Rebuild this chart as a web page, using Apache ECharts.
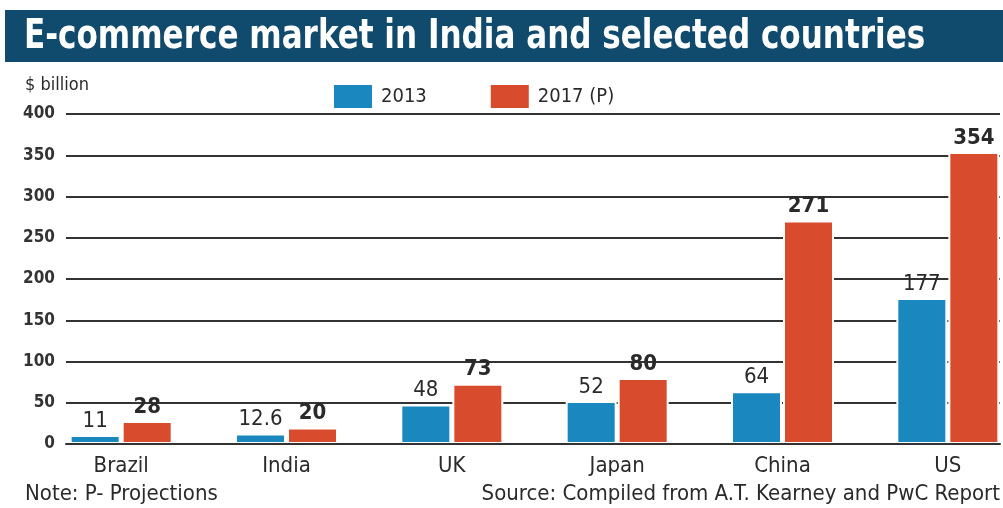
<!DOCTYPE html>
<html><head><meta charset="utf-8">
<script src="https://cdn.jsdelivr.net/npm/echarts@6/dist/echarts.min.js"></script>
<style>html,body{margin:0;padding:0;background:#fff}#c{width:1003px;height:508px}</style>
</head><body><div id="c"></div>
<script>
const categories = ['Brazil', 'India', 'UK', 'Japan', 'China', 'US'];
const values2013 = [11, 12.6, 48, 52, 64, 177];
const values2017 = [28, 20, 73, 80, 271, 354];
const seriesNames = ['2013', '2017 (P)'];
const yTicks = { min: 0, max: 400, interval: 50 };

const FONT = "'Liberation Sans Narrow', 'DejaVu Sans Condensed', sans-serif";
const BLUE = '#1a87be', RED = '#d84b2c', TXT = '#2a2a2a';
const chart = echarts.init(document.getElementById('c'), null, { renderer: 'canvas' });
chart.setOption({
  animation: false,
  backgroundColor: '#fff',
  textStyle: { fontFamily: FONT },
  graphic: [
    { type: 'rect', shape: { x: 5, y: 10, width: 998, height: 52 }, style: { fill: '#104a6c' }, z: 0 },
    { type: 'text', x: 24, y: 17, scaleX: 0.842, style: { text: 'E-commerce market in India and selected countries', fill: '#fff', font: "bold 41px " + FONT }, z: 1 },
    { type: 'text', left: 25, top: 76, style: { text: '$ billion', fill: TXT, font: "18px " + FONT } },
    { type: 'text', left: 25, top: 483, style: { text: 'Note: P- Projections', fill: TXT, font: "22px " + FONT } },
    { type: 'text', right: 3, top: 483, style: { text: 'Source: Compiled from A.T. Kearney and PwC Report', fill: TXT, font: "22px " + FONT, textAlign: 'right' } }
  ],
  legend: {
    data: seriesNames,
    left: 327, top: 78,
    itemWidth: 40, itemHeight: 25, itemGap: 62,
    icon: 'rect',
    textStyle: { fontSize: 20, color: TXT, fontFamily: FONT, padding: [0, 0, 0, 3] }
  },
  grid: [
    { left: 66, right: 3, top: 114, bottom: 64, outerBoundsMode: 'none' },
    { left: 38.5, width: 992, top: 114, bottom: 64, outerBoundsMode: 'none' }
  ],
  xAxis: [
    { gridIndex: 0, type: 'value', min: 0, max: 1, show: true, z: 10,
      axisLine: { show: true, onZero: false, lineStyle: { color: '#333', width: 2 } },
      axisTick: { show: false }, axisLabel: { show: false }, splitLine: { show: false } },
    { gridIndex: 1, type: 'category', data: categories,
      axisLine: { show: false }, axisTick: { show: false },
      axisLabel: { fontSize: 22, color: TXT, margin: 11, fontFamily: FONT } }
  ],
  yAxis: [
    { gridIndex: 0, type: 'value', min: yTicks.min, max: yTicks.max, interval: yTicks.interval,
      axisLine: { show: false }, axisTick: { show: false },
      axisLabel: { fontSize: 17, color: '#333', margin: 11, fontFamily: FONT, fontWeight: 'bold' },
      splitLine: { show: true, lineStyle: { color: '#333', width: 2 } } },
    { gridIndex: 1, type: 'value', min: yTicks.min, max: yTicks.max, interval: yTicks.interval, show: false,
      splitLine: { show: false } }
  ],
  series: [
    { name: seriesNames[0], type: 'bar', xAxisIndex: 1, yAxisIndex: 1, data: values2013,
      barWidth: 51, barGap: '2%',
      itemStyle: { color: BLUE, borderColor: '#fff', borderWidth: 2 },
      label: { show: true, position: 'top', distance: 3, fontSize: 22, color: TXT, fontFamily: FONT } },
    { name: seriesNames[1], type: 'bar', xAxisIndex: 1, yAxisIndex: 1, data: values2017,
      barWidth: 51,
      itemStyle: { color: RED, borderColor: '#fff', borderWidth: 2 },
      label: { show: true, position: 'top', distance: 3, fontSize: 22, fontWeight: 'bold', color: TXT, fontFamily: FONT } }
  ]
});
</script></body></html>
